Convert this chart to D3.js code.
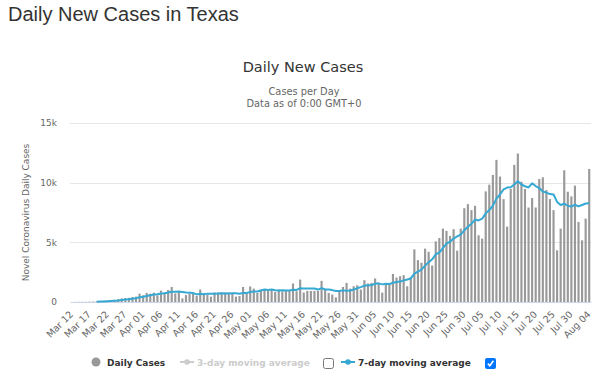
<!DOCTYPE html>
<html>
<head>
<meta charset="utf-8">
<script src="https://cdn.jsdelivr.net/npm/d3@7"></script>
<style>
  body { margin: 0; background: #fff; }
  .pageTitle { font-family: "Liberation Sans", Arial, sans-serif; font-size: 20px; fill: #333; }
  .ctext { font-family: "DejaVu Sans", Verdana, sans-serif; }
</style>
</head>
<body>
<svg class="graphique"></svg>
<script>
// donnees (cas par jour, Texas, a partir du 12 mars)
const startDate = "2020-03-12"
const cases = [
  0, 10, 15, 20, 15, 30, 40, 60, 80, 100,
  120, 150, 180, 230, 300, 330, 350, 420, 450, 700,
  560, 760, 700, 780, 560, 950, 780, 1000, 1260, 720,
  900, 300, 580, 680, 780, 500, 1050, 720, 600, 450,
  800, 800, 780, 800, 800, 720, 450, 500, 1260, 780,
  1300, 1120, 760, 1040, 1040, 1040, 1040, 840, 1040, 880,
  930, 930, 1550, 900, 1880, 790, 930, 930, 930, 930,
  1770, 1040, 760, 620, 390, 980, 1260, 1600, 1120, 1320,
  1400, 1040, 1830, 1550, 1600, 1970, 1550, 790, 1460, 1600,
  2350, 2050, 2160, 2250, 1320, 2080, 4410, 3510, 3290, 4470,
  4210, 3060, 5080, 5360, 6150, 5960, 5530, 6100, 4300, 6150,
  7860, 8200, 7700, 8060, 5590, 5310, 9270, 9830, 10650, 11910,
  10510, 8620, 6320, 9470, 11490, 12440, 10080, 9470, 7920, 8710,
  7920, 10310, 10450, 9380, 8620, 7700, 4330, 6150, 11040, 9240,
  8850, 9750, 6710, 5170, 6990, 11150
]
const tickLabels = ["Mar 12", "Mar 17", "Mar 22", "Mar 27", "Apr 01", "Apr 06", "Apr 11", "Apr 16",
  "Apr 21", "Apr 26", "May 01", "May 06", "May 11", "May 16", "May 21", "May 26", "May 31",
  "Jun 05", "Jun 10", "Jun 15", "Jun 20", "Jun 25", "Jun 30", "Jul 05", "Jul 10", "Jul 15",
  "Jul 20", "Jul 25", "Jul 30", "Aug 04"]
const yTicks = [0, 5000, 10000, 15000]
const yTickLabels = ["0", "5k", "10k", "15k"]

const fmt = d3.timeFormat("%b %d")
const dates = d3.timeDay.range(d3.timeParse("%Y-%m-%d")(startDate), d3.timeDay.offset(d3.timeParse("%Y-%m-%d")(startDate), cases.length))
const categories = dates.map(d => fmt(d))

// moyenne mobile 7 jours
const avg7 = []
cases.forEach((c, i) => {
  if (i >= 7) avg7.push({ cat: categories[i], v: d3.mean(cases.slice(i - 6, i + 1)) })
})

const width = 600, height = 380
const margin = { top: 123, right: 9, bottom: 78, left: 70 }
const innerW = width - margin.left - margin.right
const innerH = height - margin.top - margin.bottom

const svg = d3.select(".graphique").attr("width", width).attr("height", height)

svg.append("text").attr("class", "pageTitle").attr("x", 8).attr("y", 21).text("Daily New Cases in Texas")

svg.append("text").attr("class", "ctext").attr("x", 303).attr("y", 72)
  .attr("text-anchor", "middle").style("font-size", "14.5px").style("fill", "#333")
  .text("Daily New Cases")
svg.append("text").attr("class", "ctext").attr("x", 304).attr("y", 95)
  .attr("text-anchor", "middle").style("font-size", "9.8px").style("fill", "#666")
  .text("Cases per Day")
svg.append("text").attr("class", "ctext").attr("x", 304).attr("y", 107)
  .attr("text-anchor", "middle").style("font-size", "9.8px").style("fill", "#666")
  .text("Data as of 0:00 GMT+0")

const g = svg.append("g").attr("transform", "translate(" + margin.left + "," + margin.top + ")")

const x = d3.scaleBand().domain(categories).range([0, innerW]).paddingInner(0.4).paddingOuter(0.2)
const y = d3.scaleLinear().domain([0, 15000]).range([innerH, 0])

// grille
g.append("g").selectAll("line").data(yTicks.slice(1)).join("line")
  .attr("x1", 0).attr("x2", innerW)
  .attr("y1", d => Math.round(y(d)) + 0.5).attr("y2", d => Math.round(y(d)) + 0.5)
  .attr("stroke", "#e6e6e6")

// axe y
const yAxis = g.append("g").attr("class", "yAxis")
  .call(d3.axisLeft(y).tickValues(yTicks).tickFormat((d, i) => yTickLabels[i]).tickSize(0).tickPadding(13))
yAxis.select(".domain").remove()
yAxis.selectAll("text").attr("class", "ctext").style("font-size", "9px").style("fill", "#666")

svg.append("text").attr("class", "ctext")
  .attr("transform", "translate(29," + (margin.top + innerH / 2) + ") rotate(-90)")
  .attr("text-anchor", "middle").style("font-size", "9px").style("fill", "#666")
  .text("Novel Coronavirus Daily Cases")

// barres
g.append("g").selectAll("rect").data(cases).join("rect")
  .attr("x", (d, i) => x(categories[i]))
  .attr("width", x.bandwidth())
  .attr("y", d => y(d))
  .attr("height", d => innerH - y(d))
  .attr("fill", "#999")

// axe x
const xAxis = g.append("g").attr("class", "xAxis").attr("transform", "translate(0," + innerH + ")")
  .call(d3.axisBottom(x).tickValues(tickLabels).tickSize(0))
xAxis.select(".domain").attr("stroke", "#ccd6eb")
xAxis.selectAll("text").attr("class", "ctext").style("font-size", "9.5px").style("fill", "#666")
  .attr("text-anchor", "end").attr("dy", null).attr("y", 0)
  .attr("transform", "translate(2,13) rotate(-45)")

// ligne 7 jours
g.append("path").datum(avg7)
  .attr("fill", "none").attr("stroke", "#35a8d4").attr("stroke-width", 2)
  .attr("stroke-linejoin", "round")
  .attr("d", d3.line().x(d => x(d.cat) + x.bandwidth() / 2).y(d => y(d.v)))

// legende
const leg = svg.append("g")
leg.append("circle").attr("cx", 96).attr("cy", 362).attr("r", 4.5).attr("fill", "#999")
leg.append("text").attr("class", "ctext").attr("x", 107).attr("y", 366)
  .style("font-size", "9px").style("font-weight", "bold").style("fill", "#333").text("Daily Cases")

leg.append("line").attr("x1", 180).attr("x2", 194).attr("y1", 362).attr("y2", 362).attr("stroke", "#ccc").attr("stroke-width", 2)
leg.append("circle").attr("cx", 187).attr("cy", 362).attr("r", 2.8).attr("fill", "#ccc")
leg.append("text").attr("class", "ctext").attr("x", 197).attr("y", 366)
  .style("font-size", "9px").style("font-weight", "bold").style("fill", "#ccc").text("3-day moving average")
leg.append("rect").attr("x", 323.5).attr("y", 358.5).attr("width", 10).attr("height", 10).attr("rx", 2)
  .attr("fill", "#fff").attr("stroke", "#767676")

leg.append("line").attr("x1", 341).attr("x2", 355).attr("y1", 362).attr("y2", 362).attr("stroke", "#35a8d4").attr("stroke-width", 2)
leg.append("circle").attr("cx", 348).attr("cy", 362).attr("r", 2.8).attr("fill", "#35a8d4")
leg.append("text").attr("class", "ctext").attr("x", 358).attr("y", 366)
  .style("font-size", "9px").style("font-weight", "bold").style("fill", "#333").text("7-day moving average")
leg.append("rect").attr("x", 485).attr("y", 358).attr("width", 11).attr("height", 11).attr("rx", 2)
  .attr("fill", "#0075ff")
leg.append("path").attr("d", "M487.8,363.6 L489.8,365.8 L493.4,360.8")
  .attr("fill", "none").attr("stroke", "#fff").attr("stroke-width", 1.6)
</script>
</body>
</html>
